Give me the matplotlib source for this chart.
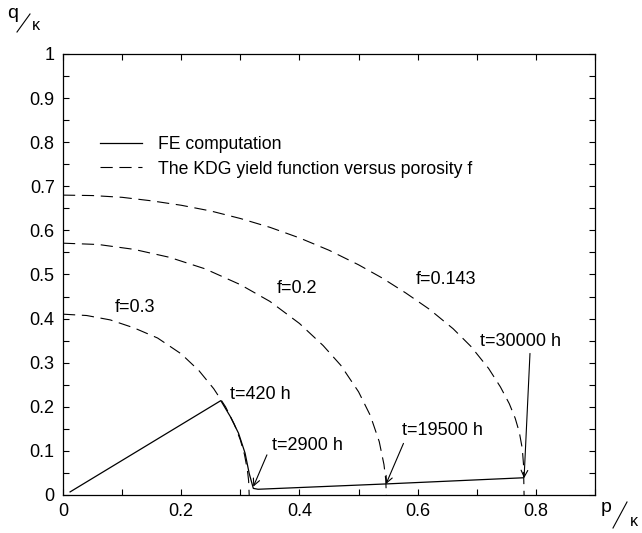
import matplotlib
matplotlib.use("Agg")
import matplotlib.pyplot as plt
from matplotlib.lines import Line2D
import numpy as np

plt.rcParams['font.family'] = ['Liberation Sans', 'DejaVu Sans']
plt.rcParams['font.size'] = 13

# FE computation path (p/kappa, q/kappa)
fe_p = [0.012, 0.267, 0.283, 0.297, 0.308, 0.315, 0.322, 0.330, 0.545, 0.778]
fe_q = [0.007, 0.214, 0.178, 0.140, 0.095, 0.049, 0.015, 0.013, 0.025, 0.039]

# KDG yield function for each porosity
kdg_p_03 = [0, 0.04, 0.08, 0.12, 0.16, 0.2, 0.23, 0.255, 0.275, 0.29, 0.3, 0.307, 0.312, 0.314, 0.315]
kdg_q_03 = [0.410, 0.407, 0.397, 0.379, 0.356, 0.320, 0.282, 0.241, 0.200, 0.160, 0.125, 0.092, 0.056, 0.033, 0.0]

kdg_p_02 = [0, 0.06, 0.12, 0.18, 0.24, 0.3, 0.35, 0.4, 0.44, 0.47, 0.5, 0.52, 0.535, 0.543, 0.546, 0.547]
kdg_q_02 = [0.571, 0.568, 0.557, 0.539, 0.513, 0.477, 0.439, 0.389, 0.339, 0.294, 0.234, 0.180, 0.121, 0.069, 0.035, 0.0]

kdg_p_0143 = [0, 0.05, 0.1, 0.15, 0.2, 0.25, 0.3, 0.35, 0.4, 0.45, 0.5, 0.54, 0.58, 0.62,
              0.66, 0.69, 0.72, 0.74, 0.755, 0.765, 0.772, 0.777, 0.779, 0.78]
kdg_q_0143 = [0.680, 0.679, 0.675, 0.667, 0.657, 0.644, 0.627, 0.607, 0.583, 0.555, 0.522, 0.492, 0.458, 0.421,
              0.377, 0.337, 0.287, 0.245, 0.207, 0.174, 0.142, 0.105, 0.070, 0.0]

curve_labels = ["f=0.3", "f=0.2", "f=0.143"]
curve_label_pos = [(0.088, 0.426), (0.362, 0.469), (0.596, 0.488)]

# time annotations: text, text position, arrow tip (None = no arrow)
time_labels = ["t=420 h", "t=2900 h", "t=19500 h", "t=30000 h"]
time_text_pos = [(0.283, 0.227), (0.353, 0.113), (0.573, 0.147), (0.706, 0.348)]
time_arrow_from = [None, (0.345, 0.091), (0.576, 0.117), (0.790, 0.321)]
time_arrow_to = [None, (0.322, 0.019), (0.5465, 0.025), (0.780, 0.038)]

fig = plt.figure(figsize=(6.42, 5.33), dpi=100)
ax = fig.add_axes([0.0981, 0.0713, 0.8287, 0.8274])

dash = (0, (11, 6))
ax.plot(fe_p, fe_q, color='black', lw=0.9, label="FE computation")
ax.plot(kdg_p_03, kdg_q_03, color='black', lw=0.8, ls=dash,
        label="The KDG yield function versus porosity f")
ax.plot(kdg_p_02, kdg_q_02, color='black', lw=0.8, ls=dash)
ax.plot(kdg_p_0143, kdg_q_0143, color='black', lw=0.8, ls=dash)

for lab, (x, y) in zip(curve_labels, curve_label_pos):
    ax.text(x, y, lab, ha='left', va='center')

for lab, pos, a0, a1 in zip(time_labels, time_text_pos, time_arrow_from, time_arrow_to):
    ax.text(pos[0], pos[1], lab, ha='left', va='center')
    if a0 is not None:
        ax.annotate("", xy=a1, xytext=a0,
                    arrowprops=dict(arrowstyle='->', lw=0.8, color='black',
                                    shrinkA=0, shrinkB=0, mutation_scale=12))

ax.set_xlim(0, 0.9)
ax.set_ylim(0, 1)
ax.set_xticks(np.arange(0, 0.91, 0.1))
ax.set_xticklabels(["0", "", "0.2", "", "0.4", "", "0.6", "", "0.8", ""])
ax.set_yticks(np.arange(0, 1.001, 0.05))
ax.set_yticklabels(["0" if i == 0 else ("1" if i == 20 else ("%.1f" % (i * 0.05) if i % 2 == 0 else ""))
                    for i in range(21)])
ax.tick_params(direction='in', length=4, width=0.8, top=True, right=True, pad=6)
for sp in ax.spines.values():
    sp.set_linewidth(0.9)

ax.legend(loc='upper left', bbox_to_anchor=(0.04, 0.849), frameon=False,
          handlelength=2.4, fontsize=12.7, labelspacing=0.4, handletextpad=0.9)

# axis labels drawn as q / kappa and p / kappa
fig.text(13 / 642, 1 - 13 / 533, "q", ha='center', va='center', fontsize=14)
fig.text(36 / 642, 1 - 26 / 533, "κ", ha='center', va='center', fontsize=11.5)
fig.add_artist(Line2D([17 / 642, 30 / 642], [1 - 32 / 533, 1 - 14 / 533], color='black', lw=0.8))
fig.text(606 / 642, 1 - 508 / 533, "p", ha='center', va='center', fontsize=14)
fig.text(634 / 642, 1 - 522 / 533, "κ", ha='center', va='center', fontsize=11.5)
fig.add_artist(Line2D([613 / 642, 627 / 642], [1 - 528 / 533, 1 - 502 / 533], color='black', lw=0.8))

fig.savefig("out.png", dpi=100)
